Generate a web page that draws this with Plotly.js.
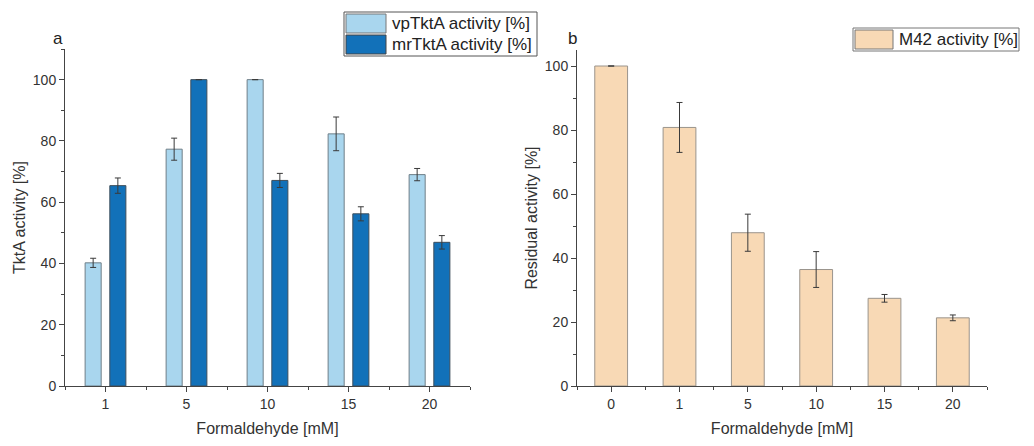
<!DOCTYPE html>
<html><head><meta charset="utf-8">
<script src="https://cdn.plot.ly/plotly-3.0.1.min.js"></script>
<style>html,body{margin:0;padding:0;background:#fff}#chart{width:1034px;height:446px}</style>
</head><body><div id="chart"></div>
<script>
// ---- data ----
const concA = ['1', '5', '10', '15', '20'];
const vpActivity = [40.2, 77.3, 100, 82.3, 69.0];
const vpError = [1.5, 3.6, null, 5.5, 2.0];
const mrActivity = [65.4, 100, 67.1, 56.2, 46.9];
const mrError = [2.5, null, 2.3, 2.3, 2.2];

const concB = ['0', '1', '5', '10', '15', '20'];
const m42Activity = [100, 80.8, 47.9, 36.4, 27.4, 21.3];
const m42Error = [null, 7.8, 5.8, 5.6, 1.2, 0.9];

const legendA = ['vpTktA activity [%]', 'mrTktA activity [%]'];
const legendB = ['M42 activity [%]'];

// ---- helpers (pixel -> paper) ----
const W = 1034, H = 446;
const PX = p => p / W, PY = p => 1 - p / H;

const idxA = concA.map((_, i) => i);
const idxB = concB.map((_, i) => i);

const cVp = '#A9D6EE', cMr = '#1271B9', cM42 = '#F8D9B5';
const font = 'Arial, "Liberation Sans", sans-serif';

const errStyle = (arr) => ({type: 'data', array: arr, visible: true, color: '#3a3a3a', thickness: 1, width: 3});

const traces = [
  {type: 'bar', x: idxA, y: vpActivity, name: legendA[0], xaxis: 'x', yaxis: 'y',
   marker: {color: cVp, line: {color: '#6f7f88', width: 1}}, error_y: errStyle(vpError), showlegend: false},
  {type: 'bar', x: idxA, y: mrActivity, name: legendA[1], xaxis: 'x', yaxis: 'y',
   marker: {color: cMr, line: {color: '#3d4e5c', width: 1}}, error_y: errStyle(mrError), showlegend: false},
  {type: 'bar', x: idxB, y: m42Activity, name: legendB[0], xaxis: 'x2', yaxis: 'y2',
   marker: {color: cM42, line: {color: '#9a948c', width: 1}}, error_y: errStyle(m42Error), showlegend: false, width: 0.48}
];

const axLine = {showline: true, linecolor: '#444', linewidth: 1, ticks: 'outside', ticklen: 5, tickwidth: 1,
  tickcolor: '#444', showgrid: false, zeroline: false, tickfont: {family: font, size: 14, color: '#333'}};

const layout = {
  width: W, height: H, margin: {l: 0, r: 0, t: 0, b: 0},
  paper_bgcolor: '#fff', plot_bgcolor: '#fff',
  barmode: 'group', bargap: 0.39, bargroupgap: 0.35,
  font: {family: font, color: '#333'},
  xaxis: Object.assign({}, axLine, {domain: [PX(65), PX(470)], range: [-0.5, 4.5], tickmode: 'array',
    tickvals: idxA, ticktext: concA, anchor: 'y',
    minor: {tickmode: 'array', tickvals: [-0.5, 0.5, 1.5, 2.5, 3.5, 4.5], ticks: 'outside', ticklen: 3, tickcolor: '#444'},
    title: {text: 'Formaldehyde [mM]', font: {family: font, size: 16, color: '#333'}, standoff: 12}}),
  yaxis: Object.assign({}, axLine, {domain: [PY(386), PY(49)], range: [0, 110], tickvals: [0, 20, 40, 60, 80, 100],
    minor: {tickvals: [10, 30, 50, 70, 90, 110], ticks: 'outside', ticklen: 3, tickcolor: '#444'}, anchor: 'x',
    title: {text: 'TktA activity [%]', font: {family: font, size: 16, color: '#333'}, standoff: 3}}),
  xaxis2: Object.assign({}, axLine, {domain: [PX(577), PX(987)], range: [-0.5, 5.5], tickmode: 'array',
    tickvals: idxB, ticktext: concB, anchor: 'y2',
    minor: {tickmode: 'array', tickvals: [-0.5, 0.5, 1.5, 2.5, 3.5, 4.5, 5.5], ticks: 'outside', ticklen: 3, tickcolor: '#444'},
    title: {text: 'Formaldehyde [mM]', font: {family: font, size: 16, color: '#333'}, standoff: 12}}),
  yaxis2: Object.assign({}, axLine, {domain: [PY(386), PY(50)], range: [0, 105], tickvals: [0, 20, 40, 60, 80, 100],
    minor: {tickvals: [10, 30, 50, 70, 90], ticks: 'outside', ticklen: 3, tickcolor: '#444'}, anchor: 'x2',
    title: {text: 'Residual activity [%]', font: {family: font, size: 16, color: '#333'}, standoff: 3}}),
  shapes: [
    // legend A box
    {type: 'rect', xref: 'paper', yref: 'paper', x0: PX(344), x1: PX(537), y0: PY(56), y1: PY(12),
     line: {color: '#555', width: 1}, fillcolor: '#fff'},
    {type: 'rect', xref: 'paper', yref: 'paper', x0: PX(346), x1: PX(386), y0: PY(33), y1: PY(14),
     line: {color: '#777', width: 1}, fillcolor: cVp},
    {type: 'rect', xref: 'paper', yref: 'paper', x0: PX(346), x1: PX(386), y0: PY(54), y1: PY(35),
     line: {color: '#444', width: 1}, fillcolor: cMr},
    // legend B box
    {type: 'rect', xref: 'paper', yref: 'paper', x0: PX(853), x1: PX(1019), y0: PY(51), y1: PY(28),
     line: {color: '#777', width: 1}, fillcolor: '#fff'},
    {type: 'rect', xref: 'paper', yref: 'paper', x0: PX(855), x1: PX(893), y0: PY(49), y1: PY(30),
     line: {color: '#777', width: 1}, fillcolor: cM42}
  ],
  annotations: [
    {xref: 'paper', yref: 'paper', x: PX(390), y: PY(23.5), xanchor: 'left', yanchor: 'middle', showarrow: false,
     text: legendA[0], font: {family: font, size: 17, color: '#222'}},
    {xref: 'paper', yref: 'paper', x: PX(390), y: PY(44.5), xanchor: 'left', yanchor: 'middle', showarrow: false,
     text: legendA[1], font: {family: font, size: 17, color: '#222'}},
    {xref: 'paper', yref: 'paper', x: PX(897), y: PY(39.5), xanchor: 'left', yanchor: 'middle', showarrow: false,
     text: legendB[0], font: {family: font, size: 17, color: '#222'}},
    {xref: 'paper', yref: 'paper', x: PX(58), y: PY(38), xanchor: 'center', yanchor: 'middle', showarrow: false,
     text: 'a', font: {family: font, size: 17, color: '#222'}},
    {xref: 'paper', yref: 'paper', x: PX(572), y: PY(38), xanchor: 'center', yanchor: 'middle', showarrow: false,
     text: 'b', font: {family: font, size: 17, color: '#222'}}
  ]
};

Plotly.newPlot('chart', traces, layout, {displayModeBar: false, staticPlot: true});
</script></body></html>
